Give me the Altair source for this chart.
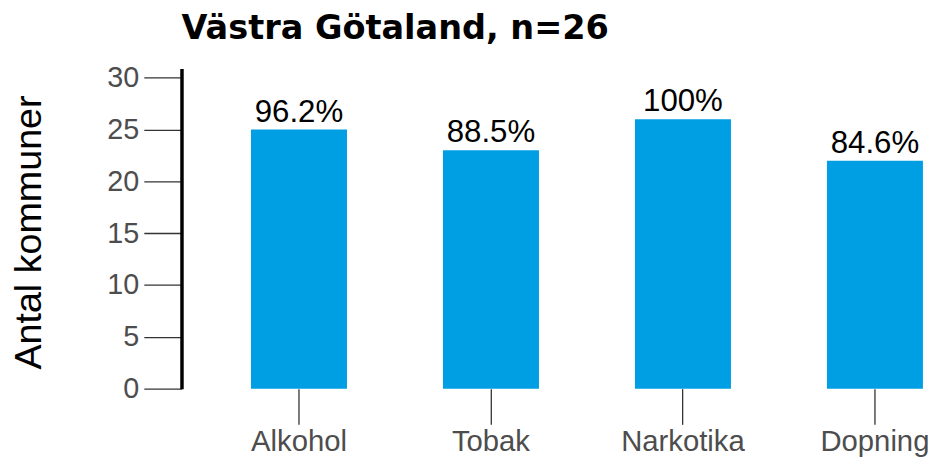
import altair as alt
import pandas as pd

FONT = "Liberation Sans"
TITLE_FONT = "DejaVu Sans"

categories = ["Alkohol", "Tobak", "Narkotika", "Dopning"]
counts = [25, 23, 26, 22]
pct_labels = ["96.2%", "88.5%", "100%", "84.6%"]
y_ticks = [0, 5, 10, 15, 20, 25, 30]

df = pd.DataFrame({"cat": categories, "n": counts, "lab": pct_labels})

x = alt.X(
    "cat:N", sort=categories, title=None,
    scale=alt.Scale(range=[0, 818], paddingInner=0.5, paddingOuter=0.362),
    axis=alt.Axis(labelAngle=0, domain=False, tickSize=36, tickColor="#333333",
                  tickWidth=1.3, labelFontSize=29.5, labelColor="#4d4d4d",
                  labelPadding=3, labelFont=FONT, grid=False),
)
y = alt.Y(
    "n:Q", title="Antal kommuner",
    scale=alt.Scale(domain=[0, 30.9], nice=False, zero=True),
    axis=alt.Axis(values=y_ticks, grid=False, domain=True, domainColor="black",
                  domainWidth=3.5, tickSize=38, tickColor="#333333", tickWidth=1.3,
                  labelFontSize=29, labelColor="#4d4d4d", labelPadding=5,
                  labelFont=FONT, titleFont=FONT, titleFontSize=38,
                  titleFontWeight="normal", titleColor="black",
                  titleX=-153, titleY=165, titleAngle=-90,
                  titleAlign="center", titleBaseline="middle"),
)

bars = alt.Chart(df).mark_bar(color="#009FE3").encode(x=x, y=y)
text = alt.Chart(df).mark_text(
    baseline="bottom", dy=-1, fontSize=31.5, font=FONT, color="black"
).encode(x=alt.X("cat:N", sort=categories), y="n:Q", text="lab:N")

chart = (
    alt.layer(bars, text)
    .properties(
        width=753, height=323,
        background="white",
        title=alt.TitleParams("Västra Götaland, n=26", anchor="start", frame="group",
                              fontSize=33.8, fontWeight="bold", font=TITLE_FONT,
                              color="black", offset=18),
        autosize=alt.AutoSizeParams(type="none"),
        padding={"left": 175, "top": 59, "right": 0, "bottom": 70},
    )
    .configure_view(stroke="transparent", strokeWidth=0)
)

chart.save("out.html", embed_options={"renderer": "svg", "actions": False})
